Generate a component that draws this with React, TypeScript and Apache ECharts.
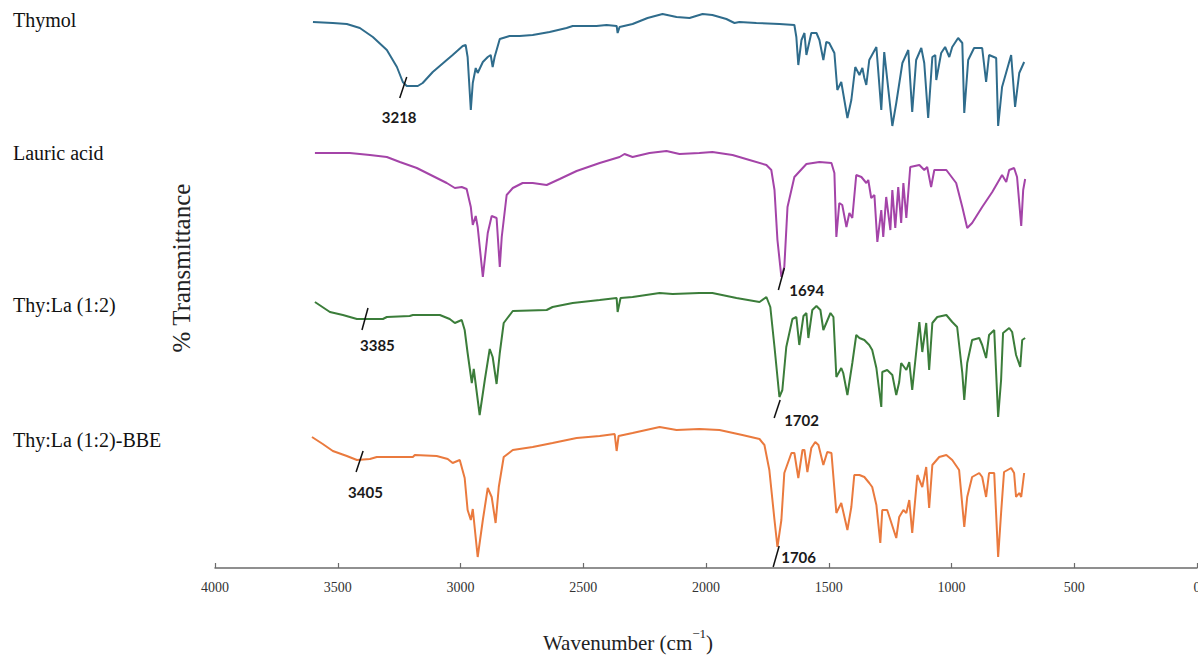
import React, { useEffect, useRef } from "react";
import * as echarts from "echarts";

// x: wavenumber (cm-1), y: relative transmittance (stacked, arbitrary units)
const thymol: number[][] = [
  [3601, 546], [3520, 545], [3463, 544], [3410, 540], [3357, 531], [3300, 518], [3259, 501], [3235, 486],
  [3219, 482], [3174, 482], [3154, 485], [3113, 496], [3056, 508], [3032, 513], [2991, 522], [2979, 523],
  [2971, 511], [2958, 458], [2950, 485], [2938, 500], [2930, 495], [2909, 506], [2889, 511], [2877, 513],
  [2869, 501], [2861, 511], [2840, 529], [2800, 532], [2759, 532], [2706, 533], [2637, 536], [2568, 540],
  [2543, 542], [2446, 542], [2405, 543], [2364, 542], [2360, 535], [2352, 541], [2299, 544], [2238, 550],
  [2177, 554], [2120, 551], [2067, 550], [2014, 554], [1974, 553], [1917, 549], [1884, 545], [1864, 546],
  [1795, 545], [1701, 544], [1640, 543], [1632, 531], [1624, 503], [1611, 528], [1599, 535], [1591, 513],
  [1571, 535], [1550, 535], [1538, 528], [1522, 508], [1510, 526], [1498, 525], [1477, 515], [1465, 478],
  [1449, 486], [1424, 450], [1408, 468], [1392, 501], [1375, 493], [1363, 500], [1355, 490], [1347, 483],
  [1335, 508], [1306, 521], [1286, 458], [1274, 516], [1241, 442], [1225, 465], [1200, 505], [1176, 518],
  [1160, 456], [1144, 508], [1123, 520], [1111, 505], [1095, 450], [1078, 511], [1066, 513], [1062, 488],
  [1042, 515], [1026, 521], [1009, 511], [997, 521], [973, 530], [956, 525], [948, 455], [932, 508],
  [908, 520], [875, 520], [859, 486], [847, 513], [818, 510], [810, 442], [794, 481], [757, 513],
  [741, 461], [724, 495], [704, 506],
];

const lauricAcid: number[][] = [
  [3593, 415], [3451, 415], [3369, 413], [3300, 411], [3247, 406], [3178, 400], [3113, 392], [3056, 385],
  [3023, 380], [2995, 381], [2975, 379], [2958, 361], [2950, 343], [2938, 352], [2930, 341], [2909, 291],
  [2889, 335], [2873, 352], [2853, 350], [2840, 301], [2832, 331], [2812, 373], [2787, 380], [2747, 385],
  [2706, 385], [2649, 383], [2596, 389], [2527, 397], [2433, 405], [2352, 411], [2332, 414], [2299, 411],
  [2230, 415], [2161, 417], [2108, 414], [2027, 415], [1974, 416], [1892, 413], [1823, 408], [1754, 403],
  [1734, 398], [1721, 378], [1709, 328], [1693, 291], [1681, 301], [1668, 361], [1640, 391], [1591, 404],
  [1538, 406], [1489, 405], [1477, 395], [1469, 331], [1457, 365], [1445, 363], [1428, 341], [1416, 355],
  [1404, 350], [1388, 393], [1367, 391], [1347, 385], [1339, 388], [1327, 370], [1314, 373], [1302, 326],
  [1286, 358], [1278, 331], [1266, 371], [1249, 338], [1241, 378], [1229, 340], [1217, 381], [1205, 345],
  [1196, 385], [1184, 350], [1168, 401], [1131, 403], [1111, 398], [1099, 401], [1083, 381], [1070, 398],
  [1021, 398], [981, 385], [956, 361], [936, 340], [916, 345], [875, 361], [834, 376], [794, 393],
  [777, 386], [765, 398], [745, 400], [733, 391], [716, 342], [708, 378], [700, 389],
];

const thyLa: number[][] = [
  [3593, 266], [3532, 256], [3479, 253], [3422, 249], [3316, 249], [3300, 251], [3207, 252], [3194, 253],
  [3084, 253], [3044, 249], [3023, 245], [2995, 248], [2983, 238], [2971, 215], [2954, 185], [2946, 199],
  [2922, 153], [2901, 188], [2881, 219], [2869, 211], [2853, 184], [2840, 215], [2824, 245], [2787, 257],
  [2649, 258], [2625, 261], [2543, 265], [2433, 268], [2364, 270], [2360, 256], [2348, 270], [2299, 271],
  [2189, 275], [2136, 274], [2027, 275], [1974, 275], [1876, 270], [1782, 266], [1754, 271], [1738, 261],
  [1721, 221], [1701, 171], [1689, 178], [1673, 221], [1648, 249], [1632, 251], [1620, 223], [1603, 252],
  [1591, 255], [1583, 230], [1567, 258], [1550, 262], [1534, 258], [1522, 238], [1510, 245], [1493, 255],
  [1481, 251], [1469, 191], [1449, 200], [1441, 195], [1424, 173], [1404, 205], [1388, 233], [1375, 230],
  [1355, 228], [1335, 223], [1323, 218], [1306, 200], [1286, 161], [1282, 196], [1262, 198], [1241, 193],
  [1225, 173], [1213, 186], [1205, 205], [1184, 198], [1172, 206], [1160, 178], [1131, 246], [1119, 216],
  [1103, 245], [1091, 198], [1078, 245], [1058, 251], [1021, 253], [997, 246], [977, 241], [956, 195],
  [948, 168], [936, 205], [916, 228], [887, 230], [875, 223], [859, 210], [847, 233], [826, 238],
  [810, 151], [798, 188], [790, 235], [765, 240], [753, 236], [737, 213], [720, 201], [712, 228],
  [700, 230],
];

const thyLaBBE: number[][] = [
  [3605, 131], [3561, 124], [3520, 117], [3463, 112], [3422, 108], [3369, 109], [3341, 111], [3194, 111],
  [3186, 113], [3097, 112], [3052, 109], [3032, 105], [3003, 108], [2983, 90], [2971, 58], [2958, 48],
  [2950, 59], [2930, 11], [2909, 48], [2889, 80], [2873, 71], [2857, 45], [2844, 81], [2824, 111],
  [2787, 118], [2706, 121], [2625, 125], [2527, 130], [2433, 132], [2372, 134], [2364, 117], [2356, 132],
  [2299, 135], [2189, 141], [2120, 138], [2027, 139], [1945, 138], [1852, 133], [1782, 129], [1762, 123],
  [1742, 98], [1721, 48], [1709, 21], [1693, 48], [1681, 95], [1652, 115], [1640, 115], [1624, 90],
  [1607, 118], [1599, 118], [1587, 96], [1571, 120], [1555, 126], [1542, 123], [1522, 103], [1506, 116],
  [1489, 115], [1469, 55], [1449, 65], [1424, 38], [1408, 61], [1396, 93], [1375, 93], [1355, 91],
  [1335, 85], [1323, 81], [1306, 63], [1290, 25], [1282, 58], [1262, 58], [1225, 30], [1213, 51],
  [1196, 58], [1184, 55], [1172, 68], [1160, 35], [1139, 93], [1119, 81], [1103, 101], [1091, 60],
  [1078, 103], [1050, 111], [1021, 113], [997, 108], [969, 98], [948, 41], [936, 71], [916, 91],
  [887, 95], [875, 91], [859, 71], [847, 95], [826, 95], [810, 11], [798, 55], [786, 96],
  [757, 100], [745, 95], [737, 71], [724, 75], [716, 71], [704, 95],
];

const seriesNames = ["Thymol", "Lauric acid", "Thy:La (1:2)", "Thy:La (1:2)-BBE"];
const seriesColors = ["#2f6c8c", "#a444a8", "#3b7d3a", "#ea7a3e"];

// peak annotations: [wavenumber, value on its spectrum]
const annotPoints: number[][] = [
  [3219, 482], [1693, 291], [3385, 249], [1702, 171], [3405, 108], [1706, 21],
];
const annotLabels = ["3218", "1694", "3385", "1702", "3405", "1706"];
// style offsets (px): slash x1,y1,x2,y2 and label x,y
const annotOffsets = [
  [-7, 12, 0, -9, -25, 31],
  [-3, 13, 3, -9, 8, 13],
  [-4, 11, 2, -11, -6, 26],
  [-5, 21, 1, 3, 5, 23],
  [-5, 12, 2, -9, -13, 32],
  [-5, 20, 1, -1, 3, 10],
];

const xTicks = { min: 0, max: 4000, interval: 500 };
const SERIF = "'Liberation Serif', 'Times New Roman', serif";

export default function App() {
  const ref = useRef<HTMLDivElement>(null);
  useEffect(() => {
    document.body.style.margin = "0";
    if (!ref.current) return;
    const chart = echarts.init(ref.current, null, { renderer: "svg" });
    const spectra = [thymol, lauricAcid, thyLa, thyLaBBE];
    const labelY = [21, 154, 306, 441];
    chart.setOption({
      animation: false,
      backgroundColor: "#ffffff",
      grid: { left: 215, right: 1, top: 0, bottom: 90, containLabel: false, outerBoundsMode: "none" },
      xAxis: {
        type: "value",
        inverse: true,
        min: xTicks.min,
        max: xTicks.max,
        interval: xTicks.interval,
        axisLine: { show: true, lineStyle: { color: "#6b6b6b", width: 1.5 } },
        axisTick: { show: true, inside: true, length: 5, lineStyle: { color: "#6b6b6b", width: 1.2 } },
        axisLabel: {
          show: true,
          margin: 12,
          color: "#333",
          fontFamily: SERIF,
          fontSize: 14,
          showMinLabel: true,
          showMaxLabel: true,
          hideOverlap: false,
          formatter: (v: number) => String(v),
        },
        splitLine: { show: false },
      },
      yAxis: {
        type: "value",
        min: 0,
        max: 568,
        show: false,
        splitLine: { show: false },
      },
      graphic: [
        ...seriesNames.map((n, i) => ({
          type: "text",
          left: 13,
          top: labelY[i] - 11,
          style: { text: n, fontSize: 20, fontFamily: SERIF, fill: "#111" },
        })),
        {
          type: "text",
          x: 181,
          y: 268,
          rotation: Math.PI / 2,
          style: {
            text: "% Transmittance",
            fontSize: 25,
            fontFamily: SERIF,
            fill: "#222",
            textAlign: "center",
            textVerticalAlign: "middle",
            align: "center",
            verticalAlign: "middle",
          },
        },
        {
          type: "text",
          x: 628,
          y: 640,
          style: {
            text: "{a|Wavenumber (cm}{s|−1}{a|)}",
            textAlign: "center",
            textVerticalAlign: "middle",
            align: "center",
            verticalAlign: "middle",
            rich: {
              a: { fontFamily: SERIF, fontSize: 21, fill: "#222", color: "#222", lineHeight: 26, verticalAlign: "bottom" },
              s: { fontFamily: SERIF, fontSize: 13, fill: "#222", color: "#222", lineHeight: 26, verticalAlign: "top", padding: [0, 0, 8, 0] },
            },
          },
        },
      ],
      series: [
        ...spectra.map((d, i) => ({
          type: "line",
          name: seriesNames[i],
          data: d,
          showSymbol: false,
          symbol: "none",
          smooth: false,
          lineStyle: { color: seriesColors[i], width: 2 },
          silent: true,
        })),
        {
          type: "custom",
          name: "annotations",
          data: annotPoints,
          clip: false,
          silent: true,
          z: 10,
          renderItem: (params: any, api: any) => {
            const i = params.dataIndex;
            const p = api.coord([api.value(0), api.value(1)]);
            const o = annotOffsets[i];
            return {
              type: "group",
              children: [
                {
                  type: "line",
                  shape: { x1: p[0] + o[0], y1: p[1] + o[1], x2: p[0] + o[2], y2: p[1] + o[3] },
                  style: { stroke: "#111", lineWidth: 1.5 },
                },
                {
                  type: "text",
                  x: p[0] + o[4],
                  y: p[1] + o[5],
                  style: {
                    text: annotLabels[i],
                    font: "bold 15px Lato",
                    fill: "#1a1a1a",
                    align: "left",
                    verticalAlign: "middle",
                    textAlign: "left",
                    textVerticalAlign: "middle",
                  },
                },
              ],
            };
          },
        },
      ],
    });
    return () => chart.dispose();
  }, []);
  return <div ref={ref} style={{ width: 1198, height: 658 }} />;
}
